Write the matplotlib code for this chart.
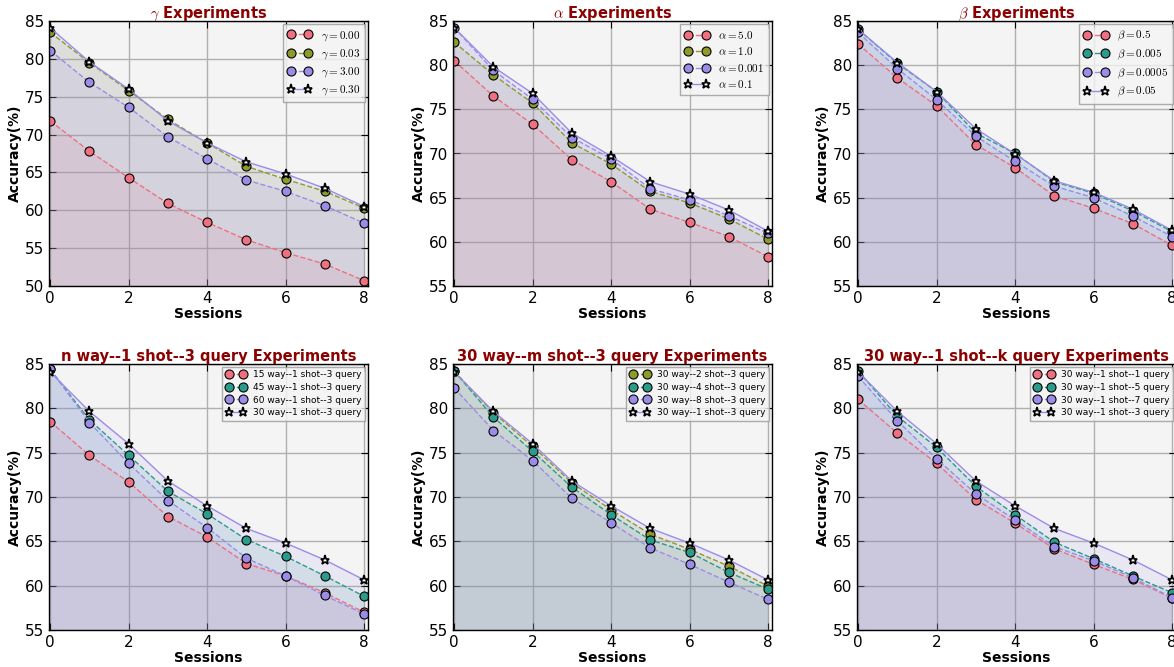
import numpy as np
import matplotlib.pyplot as plt

plt.rcParams['mathtext.fontset'] = 'cm'
plt.rcParams['font.family'] = 'DejaVu Sans'

sessions = np.arange(9)

RED = '#f06f80'
OLIVE = '#8e9b2a'
PURPLE = '#9b8ce8'
TEAL = '#2a9c8c'

# gamma experiments
gamma_labels = [r'$\gamma=0.00$', r'$\gamma=0.03$', r'$\gamma=3.00$', r'$\gamma=0.30$']
gamma_000 = [71.8, 67.8, 64.3, 60.9, 58.4, 56.1, 54.4, 52.9, 50.7]
gamma_003 = [83.5, 79.5, 75.8, 72.0, 68.9, 65.8, 64.1, 62.5, 60.3]
gamma_300 = [81.1, 76.9, 73.6, 69.7, 66.8, 64.0, 62.5, 60.6, 58.3]
gamma_030 = [84.1, 79.6, 76.0, 71.8, 68.9, 66.4, 64.8, 62.9, 60.5]

# alpha experiments
alpha_labels = [r'$\alpha=5.0$', r'$\alpha=1.0$', r'$\alpha=0.001$', r'$\alpha=0.1$']
alpha_5 = [80.5, 76.5, 73.3, 69.3, 66.8, 63.7, 62.2, 60.6, 58.3]
alpha_1 = [82.6, 78.9, 75.7, 71.2, 68.8, 65.7, 64.4, 62.6, 60.3]
alpha_0001 = [84.25, 79.4, 76.15, 71.8, 69.4, 66.0, 64.75, 62.95, 60.95]
alpha_01 = [84.25, 79.8, 76.8, 72.3, 69.7, 66.8, 65.4, 63.6, 61.2]

# beta experiments
beta_labels = [r'$\beta=0.5$', r'$\beta=0.005$', r'$\beta=0.0005$', r'$\beta=0.05$']
beta_05 = [82.4, 78.55, 75.4, 71.0, 68.4, 65.2, 63.8, 62.05, 59.6]
beta_0005 = [84.05, 80.2, 77.0, 72.3, 70.0, 66.8, 65.5, 63.5, 61.15]
beta_00005 = [83.7, 79.6, 76.1, 71.95, 69.1, 66.3, 65.0, 62.9, 60.6]
beta_005 = [84.05, 80.3, 77.0, 72.8, 69.95, 66.9, 65.6, 63.7, 61.3]

# baseline: 30 way--1 shot--3 query
base = [84.1, 79.65, 76.0, 71.8, 69.0, 66.45, 64.8, 62.9, 60.65]

way_labels = ['15 way--1 shot--3 query', '45 way--1 shot--3 query',
              '60 way--1 shot--3 query', '30 way--1 shot--3 query']
way_15 = [78.5, 74.7, 71.7, 67.8, 65.5, 62.5, 61.1, 59.2, 57.0]
way_45 = [84.4, 78.7, 74.7, 70.65, 68.1, 65.2, 63.3, 61.1, 58.8]
way_60 = [84.4, 78.4, 73.8, 69.6, 66.55, 63.1, 61.1, 58.9, 56.8]

shot_labels = ['30 way--2 shot--3 query', '30 way--4 shot--3 query',
               '30 way--8 shot--3 query', '30 way--1 shot--3 query']
shot_2 = [84.2, 79.5, 75.7, 71.6, 68.55, 65.8, 64.1, 62.2, 59.95]
shot_4 = [84.2, 79.0, 75.15, 71.1, 68.0, 65.15, 63.75, 61.5, 59.6]
shot_8 = [82.3, 77.5, 74.1, 69.85, 67.1, 64.25, 62.4, 60.4, 58.45]

query_labels = ['30 way--1 shot--1 query', '30 way--1 shot--5 query',
                '30 way--1 shot--7 query', '30 way--1 shot--3 query']
query_1 = [81.0, 77.2, 73.8, 69.7, 67.05, 64.15, 62.4, 60.7, 58.6]
query_5 = [84.2, 79.1, 75.6, 71.2, 68.0, 64.9, 63.05, 61.1, 59.2]
query_7 = [83.6, 78.6, 74.3, 70.35, 67.4, 64.4, 62.8, 60.9, 58.65]

panels = [
    (r'$\gamma$ Experiments', gamma_labels, [gamma_000, gamma_003, gamma_300, gamma_030],
     [RED, OLIVE, PURPLE], (50, 85), 8),
    (r'$\alpha$ Experiments', alpha_labels, [alpha_5, alpha_1, alpha_0001, alpha_01],
     [RED, OLIVE, PURPLE], (55, 85), 8),
    (r'$\beta$ Experiments', beta_labels, [beta_05, beta_0005, beta_00005, beta_005],
     [RED, TEAL, PURPLE], (55, 85), 8),
    ('n way--1 shot--3 query Experiments', way_labels, [way_15, way_45, way_60, base],
     [RED, TEAL, PURPLE], (55, 85), 6.5),
    ('30 way--m shot--3 query Experiments', shot_labels, [shot_2, shot_4, shot_8, base],
     [OLIVE, TEAL, PURPLE], (55, 85), 6.5),
    ('30 way--1 shot--k query Experiments', query_labels, [query_1, query_5, query_7, base],
     [RED, TEAL, PURPLE], (55, 85), 6.5),
]

fig = plt.figure(figsize=(11.74, 6.67), dpi=100)
W, H = 1174, 667
lefts = [49, 453, 857]
rows = [(21, 286), (364, 630)]

for i, (title, labels, series, colors, ylim, lfs) in enumerate(panels):
    top, bot = rows[i // 3]
    left = lefts[i % 3]
    ax = fig.add_axes([left / W, 1 - bot / H, 319 / W, (bot - top) / H])
    ax.set_facecolor('#f4f4f4')
    for y, c, lab in zip(series[:3], colors, labels[:3]):
        ax.fill_between(sessions, y, ylim[0], color=c, alpha=0.12, lw=0)
        ax.plot(sessions, y, '--', color=c, lw=1, marker='o', markersize=6.5,
                markerfacecolor=c, markeredgecolor='black', markeredgewidth=0.8,
                label=lab)
    ax.fill_between(sessions, series[3], ylim[0], color=PURPLE, alpha=0.12, lw=0)
    ax.plot(sessions, series[3], '-', color=PURPLE, lw=1, marker='*', markersize=6.5,
            markerfacecolor='white', markeredgecolor='black', markeredgewidth=1.2,
            label=labels[3])
    ax.set_xlim(-0.03, 8.1)
    ax.set_ylim(*ylim)
    ax.set_xticks([0, 2, 4, 6, 8])
    ax.set_yticks(np.arange(ylim[0], 86, 5))
    ax.grid(True, color='#b0b0b0', lw=1)
    ax.set_axisbelow(True)
    ax.tick_params(direction='in', top=True, right=True, labelsize=11, length=5)
    for s in ax.spines.values():
        s.set_linewidth(1)
    ax.set_title(title, color='#8b0000', fontweight='bold', fontsize=10.5, pad=2)
    ax.set_xlabel('Sessions', fontweight='bold', fontsize=10, labelpad=1)
    ax.set_ylabel('Accuracy(%)', fontweight='bold', fontsize=10, labelpad=2)
    leg = ax.legend(loc='upper right', numpoints=2, fontsize=lfs, handlelength=2.2,
                    borderaxespad=0.3, labelspacing=0.4, fancybox=False,
                    handletextpad=0.8, borderpad=0.4)
    leg.get_frame().set_edgecolor('#999999')
    leg.get_frame().set_facecolor('#f4f4f4')

plt.savefig('out.png', dpi=100)
